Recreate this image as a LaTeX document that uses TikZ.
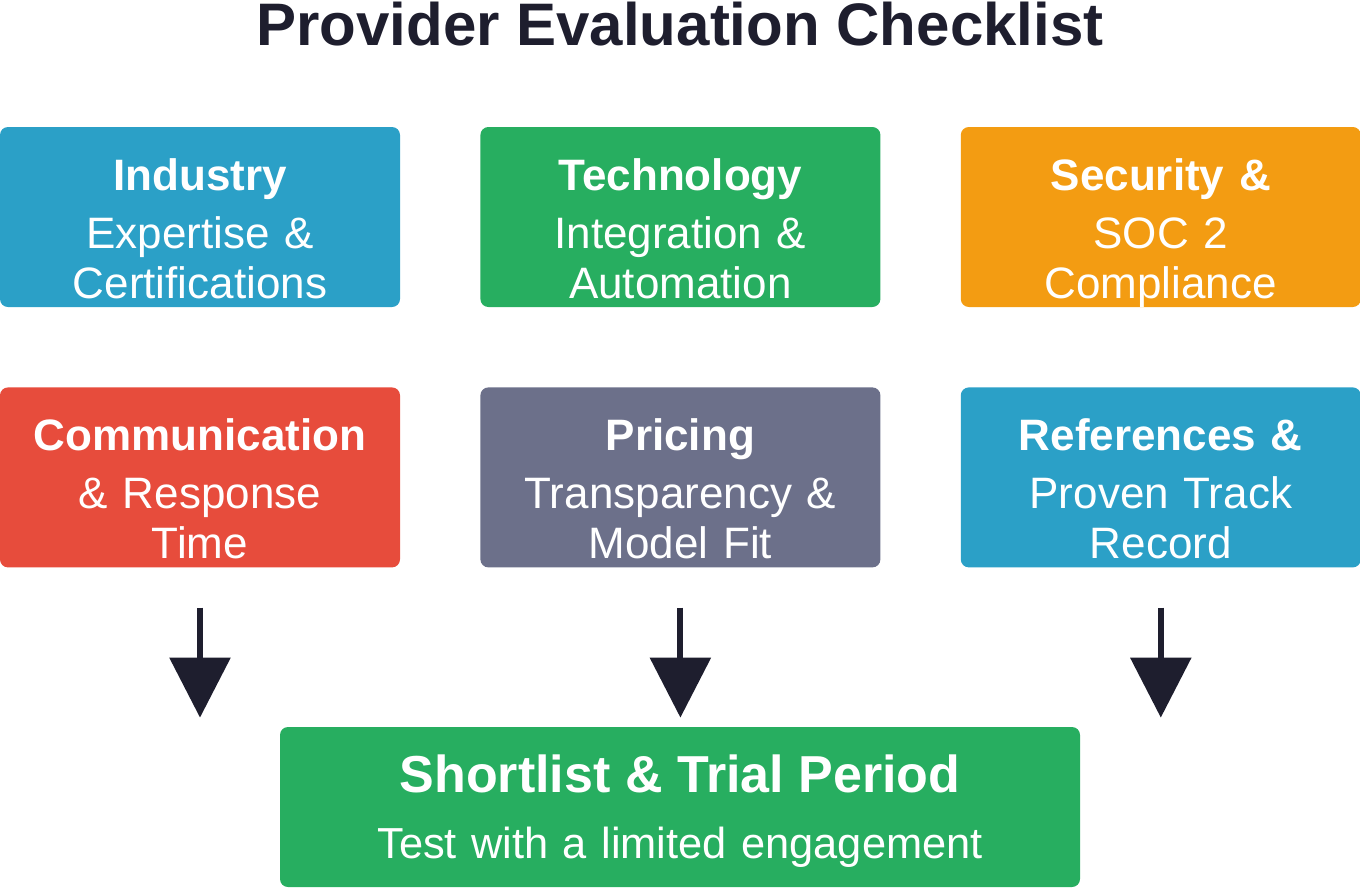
\documentclass[tikz,border=0pt]{standalone}
\usepackage{fontspec}
\setmainfont{Liberation Sans}
\usepackage{xcolor}
\usepackage{tikz}
\usetikzlibrary{positioning,arrows.meta}
\definecolor{cardblue}{RGB}{43,160,199}
\definecolor{cardgreen}{RGB}{39,174,96}
\definecolor{cardorange}{RGB}{243,156,18}
\definecolor{cardred}{RGB}{231,76,60}
\definecolor{cardgray}{RGB}{108,112,138}
\definecolor{inkdark}{RGB}{30,30,46}
\tikzset{
  card/.style={rectangle, rounded corners=8pt, fill=#1, text=white,
    minimum width=400pt, minimum height=180pt, inner sep=0pt,
    text width=396pt, align=center, text height=32pt, text depth=86pt,
    font=\fontsize{44}{50}\selectfont},
  bigcard/.style={card=#1, minimum width=800pt, minimum height=160pt,
    text width=796pt, text height=37pt, text depth=67pt,
    font=\fontsize{43.4}{50}\selectfont},
  downarr/.style={-{Triangle[length=60pt,width=60pt]}, line width=6pt, draw=inkdark},
}

\begin{document}
\begin{tikzpicture}[x=1pt, y=-1pt, node distance=80pt]
  \useasboundingbox (0,0) rectangle (1360,887);
  \node[anchor=base, text=inkdark, font=\fontsize{60}{66}\selectfont\bfseries] (title) at (680,45) {Provider Evaluation Checklist};

  \node[card=cardblue] (ind) at (200,217) {\textbf{Industry}\\[8pt]Expertise \&\\Certifications};
  \node[card=cardgreen, right=80pt of ind] (tech) {\textbf{Technology}\\[8pt]Integration \&\\Automation};
  \node[card=cardorange, right=80pt of tech] (sec) {\textbf{Security \&}\\[8pt]SOC 2\\Compliance};

  \node[card=cardred, below=80pt of ind] (comm) {\textbf{Communication}\\[8pt]\& Response\\Time};
  \node[card=cardgray, below=80pt of tech] (price) {\textbf{Pricing}\\[8pt]Transparency \&\\Model Fit};
  \node[card=cardblue, below=80pt of sec] (refs) {\textbf{References \&}\\[8pt]Proven Track\\Record};

  \node[bigcard=cardgreen] (short) at (680,807) {{\fontsize{52}{58}\selectfont\bfseries Shortlist \& Trial Period}\\[16pt]Test with a limited engagement};

  \foreach \n in {comm,price,refs}{
    \coordinate (\n-from) at ([yshift=-40pt]\n.south);
    \coordinate (\n-to) at ([yshift=-150pt]\n.south);
    \draw[downarr] (\n-from) -- (\n-to);
  }
\end{tikzpicture}
\end{document}
